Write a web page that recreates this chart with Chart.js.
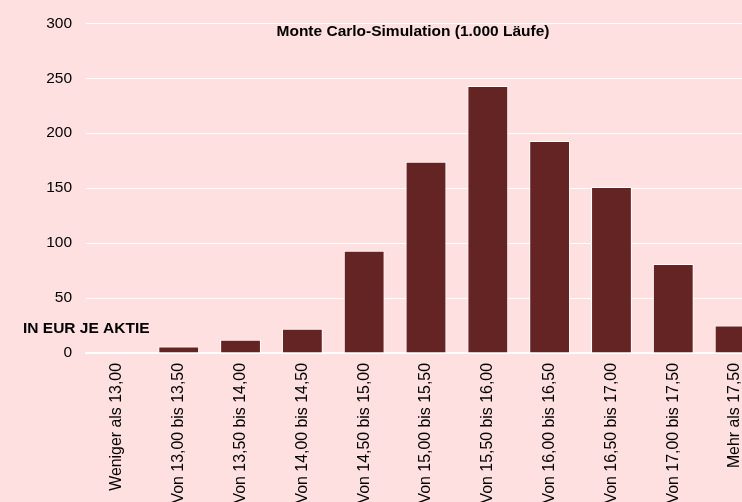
<!DOCTYPE html>
<html lang="de">
<head>
<meta charset="utf-8">
<title>Monte Carlo-Simulation</title>
<script src="https://cdn.jsdelivr.net/npm/chart.js@4"></script>
<style>
html, body { margin: 0; padding: 0; background: #ffe0e0; overflow: hidden; }
#wrap { position: relative; width: 766px; height: 510px; }
</style>
</head>
<body>
<div id="wrap"><canvas id="myChart"></canvas></div>
<script>
// Kursklassen und Anzahl der Simulationsläufe je Klasse
const klassen = [
  "Weniger als 13,00", "Von 13,00 bis 13,50", "Von 13,50 bis 14,00",
  "Von 14,00 bis 14,50", "Von 14,50 bis 15,00", "Von 15,00 bis 15,50",
  "Von 15,50 bis 16,00", "Von 16,00 bis 16,50", "Von 16,50 bis 17,00",
  "Von 17,00 bis 17,50", "Mehr als 17,50"
];
const laeufe = [0, 6, 12, 22, 93, 174, 243, 193, 151, 81, 25];
const yTicks = [0, 50, 100, 150, 200, 250, 300];
const titel = "Monte Carlo-Simulation (1.000 Läufe)";
const einheit = "IN EUR JE AKTIE";

const FONT = "'Liberation Sans', Arial, sans-serif";
Chart.defaults.font.family = FONT;
Chart.defaults.font.size = 15.5;
Chart.defaults.color = "#000";

// Titel und Einheit liegen im Diagramm, deshalb per Plugin
const texte = {
  id: "texte",
  afterDraw(chart) {
    const { ctx, chartArea } = chart;
    ctx.save();
    ctx.fillStyle = "#000";
    ctx.font = "bold 15.5px " + FONT;
    ctx.textBaseline = "alphabetic";
    ctx.textAlign = "center";
    ctx.fillText(titel, chartArea.left + 327, chartArea.top + 13);
    ctx.textAlign = "left";
    ctx.fillText(einheit, 23, chartArea.bottom - 20);
    ctx.restore();
  }
};

const ctx = document.getElementById("myChart");
new Chart(ctx, {
  type: "bar",
  data: {
    labels: klassen,
    datasets: [{
      label: "Läufe",
      data: laeufe,
      backgroundColor: "#652424",
      borderColor: "#ffffff",
      borderWidth: 1,
      barPercentage: 0.66,
      categoryPercentage: 1
    }]
  },
  options: {
    responsive: true,
    maintainAspectRatio: false,
    animation: false,
    layout: { padding: { top: 21, left: 0, right: 0, bottom: 0 } },
    plugins: {
      legend: { display: false },
      title: { display: false },
      tooltip: { enabled: false }
    },
    scales: {
      x: {
        grid: { display: false, drawTicks: false },
        border: { display: true, color: "#ffffff", width: 2 },
        ticks: { font: { size: 15.9 }, minRotation: 90, maxRotation: 90, autoSkip: false, padding: 10 },
        afterFit: s => { s.height = 157; }
      },
      y: {
        min: yTicks[0],
        max: yTicks[yTicks.length - 1],
        grid: { color: "#ffffff", lineWidth: 1, drawTicks: false },
        border: { display: false },
        ticks: { stepSize: yTicks[1] - yTicks[0], padding: 14 },
        afterFit: s => { s.width = 86; }
      }
    }
  },
  plugins: [texte]
});
</script>
</body>
</html>
